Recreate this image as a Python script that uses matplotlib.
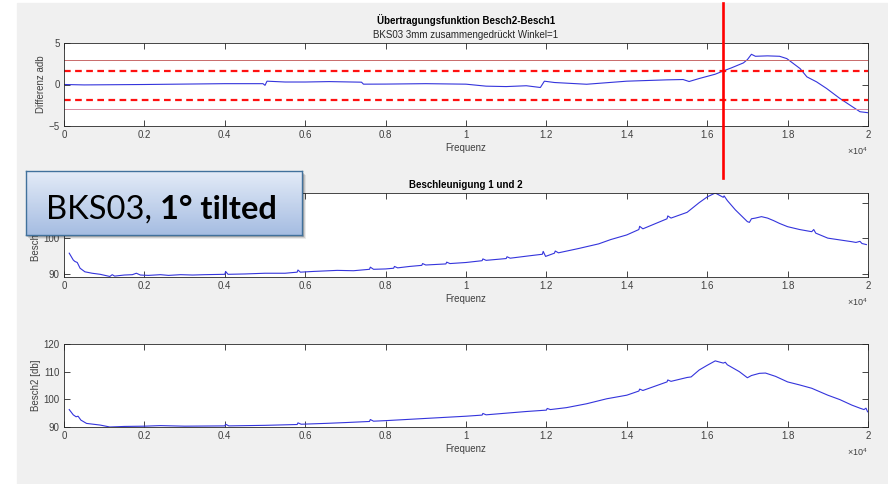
"""Transfer function Besch2-Besch1 for BKS03, 1 deg tilted."""

import matplotlib

matplotlib.use("Agg")

import matplotlib.pyplot as plt
import numpy as np
from matplotlib import transforms
from matplotlib.colors import LinearSegmentedColormap
from matplotlib.lines import Line2D
from matplotlib.patches import Rectangle

# difference Besch2 - Besch1 (top panel)
DIFF_FREQ = [0, 500, 2000, 4000, 4950, 5000, 5050, 5500, 6000, 6600, 7400, 7450,
             8000, 9000, 10000, 10500, 11000, 11500, 11850, 11950, 12200, 13000,
             14000, 15000, 15400, 15550, 15800, 16200, 16400, 16600, 16900, 17000,
             17100, 17200, 17500, 17800, 17980, 18310, 18480, 18720, 18970, 19300,
             19550, 19800, 20000]
DIFF_DB = [0.0, -0.05, 0.0, 0.1, 0.1, -0.1, 0.4, 0.3, 0.3, 0.35, 0.28, 0.04,
           0.05, 0.1, 0.04, -0.2, -0.25, -0.15, -0.36, 0.4, 0.24, 0.03,
           0.4, 0.56, 0.6, 0.36, 0.72, 1.24, 1.63, 2.0, 2.6, 3.0,
           3.64, 3.4, 3.45, 3.4, 3.12, 1.92, 0.92, 0.32, -0.48, -1.68,
           -2.48, -3.28, -3.4]

# acceleration 1 (middle panel)
B1_FREQ = [130, 230, 270, 330, 400, 520, 700, 900, 1140, 1200, 1260, 1500, 1700,
           1800, 1900, 2100, 2400, 2600, 2900, 3200, 3500, 4000, 4020, 4080, 4500,
           5000, 5500, 5800, 5820, 5880, 6200, 6800, 7200, 7600, 7620, 7700, 8000,
           8200, 8220, 8300, 8600, 8900, 8920, 9000, 9500, 9520, 9600, 10000,
           10400, 10420, 10500, 11000, 11020, 11100, 11600, 11900, 11920, 11980,
           12200, 12220, 12300, 12800, 13300, 13600, 14000, 14300, 14320, 14400,
           15000, 15020, 15100, 15500, 15800, 16000, 16200, 16400, 16420, 16500,
           16700, 17000, 17050, 17100, 17200, 17350, 17500, 17650, 17800, 18000,
           18300, 18600, 18650, 18700, 19000, 19300, 19600, 19700, 19800, 19850,
           19960]
B1_DB = [95.9, 94.0, 93.6, 93.3, 91.7, 90.7, 90.3, 90.0, 89.4, 89.9, 89.5, 89.8, 89.9,
         90.3, 89.8, 89.7, 89.9, 89.7, 89.9, 89.8, 89.9, 90.0, 90.8, 90.0, 90.1,
         90.3, 90.3, 90.6, 91.2, 90.6, 90.8, 91.1, 91.0, 91.4, 92.0, 91.4, 91.5,
         91.7, 92.2, 91.8, 92.2, 92.5, 93.0, 92.6, 92.9, 93.4, 93.0, 93.3,
         93.8, 94.3, 93.9, 94.4, 94.9, 94.5, 95.2, 95.6, 96.4, 95.0,
         95.9, 96.5, 96.0, 97.2, 98.5, 99.7, 101.0, 102.5, 103.4, 102.7,
         105.5, 106.3, 105.7, 107.3, 110.0, 111.6, 112.7, 111.5, 111.9, 110.6,
         108.0, 104.7, 104.5, 105.5, 105.7, 106.1, 105.7, 105.0, 104.2, 103.3,
         102.5, 101.9, 102.5, 101.5, 100.1, 99.6, 99.1, 98.9, 99.2, 98.6,
         98.3]

# acceleration 2 (bottom panel)
B2_FREQ = [130, 230, 300, 350, 420, 560, 900, 1140, 1500, 2000, 2400, 3000, 4000,
           4020, 4100, 5000, 5800, 5820, 5900, 6500, 7000, 7600, 7620, 7700, 8000,
           8500, 9000, 9500, 10000, 10400, 10420, 10500, 11000, 11500, 12000,
           12020, 12100, 12500, 13000, 13500, 14000, 14300, 14320, 14400, 15000,
           15020, 15100, 15500, 15600, 15800, 16000, 16200, 16400, 16450, 16500,
           16800, 17000, 17100, 17200, 17300, 17450, 17700, 18000, 18300, 18600,
           19000, 19300, 19600, 19800, 19900, 19950, 19990]
B2_DB = [96.3, 94.4, 93.7, 93.9, 92.5, 91.3, 90.7, 90.0, 90.2, 90.3, 90.5, 90.3, 90.4,
         91.0, 90.4, 90.6, 90.9, 91.5, 91.0, 91.3, 91.6, 92.0, 92.7, 92.1, 92.3,
         92.7, 93.1, 93.5, 93.9, 94.3, 94.9, 94.4, 95.0, 95.6, 96.1,
         96.7, 96.3, 97.0, 98.4, 100.2, 101.5, 103.0, 103.7, 103.2, 106.3,
         107.0, 106.5, 107.9, 108.1, 110.6, 112.3, 113.9, 113.1, 113.4, 112.5,
         110.0, 107.8, 108.6, 109.0, 109.4, 109.5, 108.3, 106.3, 105.2, 104.0,
         101.5, 99.9, 97.9, 96.8, 96.3, 96.8, 95.5]

LIMIT_INNER = [1.65, -1.9]
LIMIT_OUTER = [3.0, -3.0]
MARKER_FREQ = 16400
XTICKS = [0, 2000, 4000, 6000, 8000, 10000, 12000, 14000, 16000, 18000, 20000]
XTICK_LABELS = ["0", "0.2", "0.4", "0.6", "0.8", "1", "1.2", "1.4", "1.6", "1.8", "2"]

W, H = 888, 484
CURVE = "#3434dc"
AX_COL = "#262626"
TXT_COL = "#404040"


def px_rect(x0, y0, x1, y1):
    return [x0 / W, 1 - y1 / H, (x1 - x0) / W, (y1 - y0) / H]


def style_axes(ax, yticks, ylabel):
    ax.set_xlim(0, 20000)
    ax.set_xticks(XTICKS)
    ax.set_xticklabels(XTICK_LABELS)
    ax.set_yticks(yticks)
    ax.tick_params(direction="in", length=4, width=0.6, top=True, right=True,
                   labelsize=7, color=AX_COL, labelcolor=TXT_COL, pad=3)
    for sp in ax.spines.values():
        sp.set_color(AX_COL)
        sp.set_linewidth(0.6)
    ax.set_xlabel("Frequenz", fontsize=7, color=TXT_COL, labelpad=2)
    ax.set_ylabel(ylabel, fontsize=7, color=TXT_COL, labelpad=2)
    ax.text(1.0, -0.30, r"$\times10^{4}$", transform=ax.transAxes, ha="right",
            va="center", fontsize=6.5, color=TXT_COL)


def main():
    plt.rcParams["font.family"] = ["Liberation Sans", "DejaVu Sans"]
    plt.rcParams["mathtext.default"] = "regular"

    fig = plt.figure(figsize=(W / 100, H / 100), dpi=100, facecolor="white")
    fig.add_artist(Rectangle((17 / W, 0), 1 - 17 / W, 1 - 3 / H,
                             transform=fig.transFigure, color="#f0f0f0", zorder=-1))

    # top: transfer function
    ax1 = fig.add_axes(px_rect(64, 43, 868, 126))
    ax1.plot(DIFF_FREQ, DIFF_DB, color=CURVE, lw=0.8)
    ax1.axhline(LIMIT_OUTER[0], color="#c86a6a", lw=0.7)
    ax1.axhline(LIMIT_OUTER[1], color="#d88aa0", lw=0.7)
    for lim in LIMIT_INNER:
        ax1.axhline(lim, color="#ff1010", lw=1.6, ls=(0, (3, 2)))
    ax1.set_ylim(-5, 5)
    style_axes(ax1, [-5, 0, 5], "Differenz adb")
    ax1.text(0.5, 1.28, "Übertragungsfunktion Besch2-Besch1", transform=ax1.transAxes,
             ha="center", va="center", fontsize=7, fontweight="bold", color="black")
    ax1.text(0.5, 1.10, "BKS03 3mm zusammengedrückt Winkel=1", transform=ax1.transAxes,
             ha="center", va="center", fontsize=7, color="#262626")

    # middle: acceleration 1
    ax2 = fig.add_axes(px_rect(64, 193, 868, 277))
    ax2.plot(B1_FREQ, B1_DB, color=CURVE, lw=0.8)
    ax2.set_ylim(89.25, 112.7)
    style_axes(ax2, [90, 100, 110], "Besch1 [db]")
    ax2.text(0.5, 1.09, "Beschleunigung 1 und 2", transform=ax2.transAxes,
             ha="center", va="center", fontsize=7, fontweight="bold", color="black")

    # bottom: acceleration 2
    ax3 = fig.add_axes(px_rect(64, 344, 868, 427))
    ax3.plot(B2_FREQ, B2_DB, color=CURVE, lw=0.8)
    ax3.set_ylim(90, 120)
    style_axes(ax3, [90, 100, 110, 120], "Besch2 [db]")

    # vertical marker over the top panel
    trans = transforms.blended_transform_factory(ax1.transData, fig.transFigure)
    fig.add_artist(Line2D([MARKER_FREQ, MARKER_FREQ], [1 - 3 / H, 1 - 178 / H],
                          transform=trans, color="#ff0000", lw=1.9, zorder=3))

    # callout box with shadow
    for i, a in enumerate([0.08, 0.12, 0.18]):
        off = 4 - i
        x0, y0, w, h = px_rect(26 + off - 1, 171 + off, 302 + off, 235 + off)
        fig.add_artist(Rectangle((x0, y0), w, h, transform=fig.transFigure,
                                 color="black", alpha=a, lw=0, zorder=2))
    box = fig.add_axes(px_rect(26, 171, 302, 235), zorder=5)
    grad = LinearSegmentedColormap.from_list("box", ["#a6bde2", "#e3ebf7"])
    box.imshow(np.linspace(0, 1, 64).reshape(-1, 1)[::-1], cmap=grad, aspect="auto",
               extent=[0, 1, 0, 1])
    box.set_xlim(0, 1)
    box.set_ylim(0, 1)
    box.set_xticks([])
    box.set_yticks([])
    for sp in box.spines.values():
        sp.set_color("#41719c")
        sp.set_linewidth(1.0)
    t1 = box.text(0.072, 0.17, "BKS03, ", fontsize=23.5, family=["Lato", "DejaVu Sans"],
                  color="black", va="bottom", ha="left")
    box.annotate("1° tilted", xy=(1, 0), xycoords=t1, fontsize=23.5, fontweight="bold",
                 family=["Lato", "DejaVu Sans"], color="black", va="bottom", ha="left")

    fig.savefig("out.png", dpi=100, facecolor="white")
    plt.close(fig)


if __name__ == "__main__":
    main()
